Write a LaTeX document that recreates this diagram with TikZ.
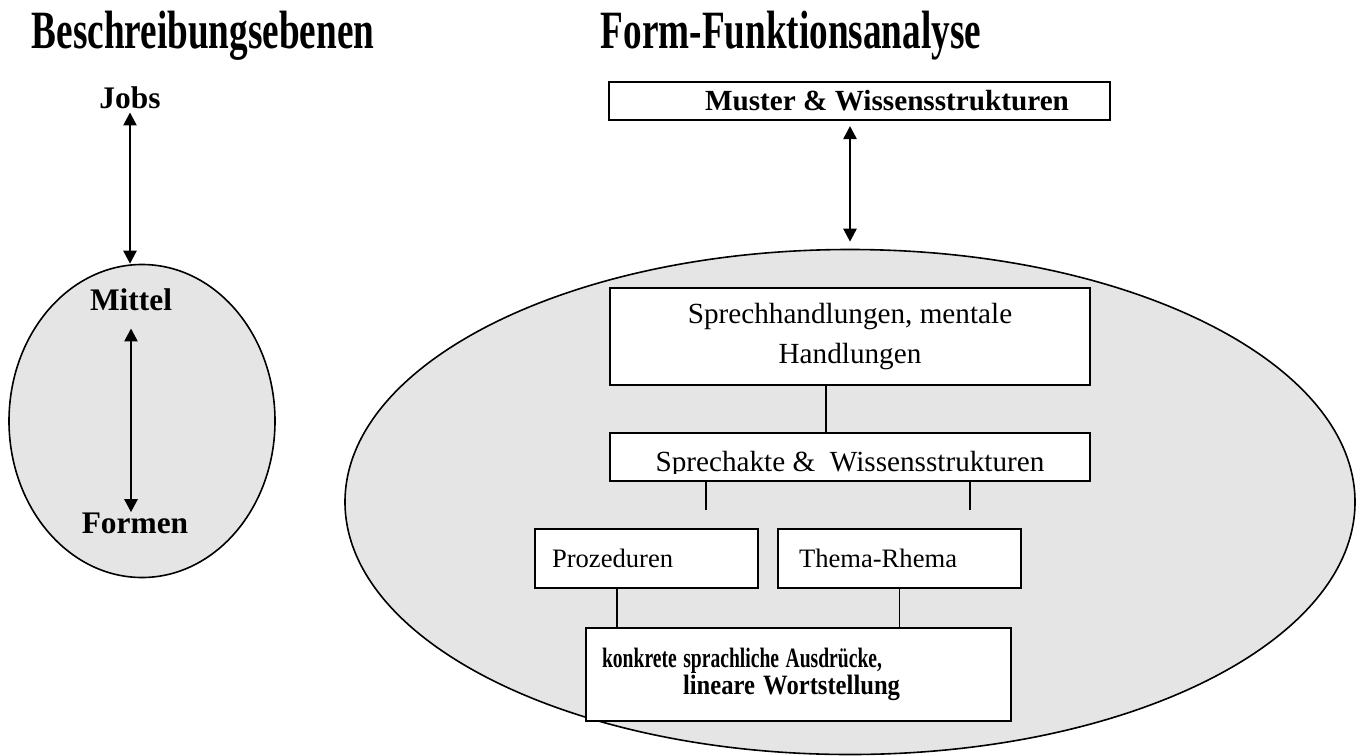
\documentclass[tikz,border=0pt]{standalone}
\usepackage{graphicx}
\usepackage{fontspec}
\setmainfont{Liberation Serif}
\usetikzlibrary{arrows.meta,shapes.geometric,positioning}

\begin{document}
\begin{tikzpicture}[x=0.5pt,y=-0.5pt,>={Triangle[length=6.5pt,width=6.5pt]},
                    box/.style={draw,fill=white,line width=1pt,inner sep=0pt},
                    blob/.style={ellipse,draw,fill=black!10,line width=0.8pt,inner sep=0pt},
                    level/.style={inner sep=0pt,font=\bfseries\fontsize{15.7}{18}\selectfont},
                    title/.style={anchor=base,font=\bfseries\fontsize{18.6}{22}\selectfont}]

  \useasboundingbox (0,0) rectangle (1363,755);

  \node[title] (t1) at (203,48) {\scalebox{1}[1.45]{Beschreibungsebenen}};
  \node[title] (t2) at (791,48) {\scalebox{1}[1.45]{Form-Funktionsanalyse}};

  % left: Beschreibungsebenen
  \node[blob,minimum width=133pt,minimum height=156.5pt] (small) at (142,421) {};
  \node[level] (jobs) at (130,98) {Jobs};
  \node[level] (mittel) at (131,300) {Mittel};
  \node[level] (formen) at (135,523) {Formen};

  % right: Form-Funktionsanalyse
  \node[blob,minimum width=505pt,minimum height=252.5pt] (big) at (850,502) {};
  \node[box,minimum width=250.5pt,minimum height=19pt,
        font=\bfseries\fontsize{14.6}{17}\selectfont] (muster) at (859.5,101)
        {\hspace*{27.5pt}Muster \& Wissensstrukturen};
  \node[box,minimum width=240pt,minimum height=48.5pt,align=center,
        font=\fontsize{14.6}{20}\selectfont] (handl) at (850,336.5)
        {Sprechhandlungen, mentale\\Handlungen};
  % text of this box is cut off at the bottom
  \node[box,minimum width=240pt,minimum height=24pt,
        path picture={
          \clip (path picture bounding box.north west)
                rectangle ([yshift=3.8pt]path picture bounding box.south east);
          \node[anchor=base,inner sep=0pt,font=\fontsize{14.6}{17}\selectfont]
            at ([yshift=4.6pt]path picture bounding box.south)
            {Sprechakte \&\ \ Wissensstrukturen};
        }] (akte) at (850,457) {};
  \node[box,minimum width=111.5pt,minimum height=29.5pt,text width=94.5pt,align=left,
        font=\fontsize{13.3}{16}\selectfont] (proz) at (646.5,558.5) {Prozeduren};
  \node[box,minimum width=121.5pt,minimum height=29.5pt,text width=100.5pt,align=left,
        font=\fontsize{13.3}{16}\selectfont] (thema) at (899.5,558.5) {Thema-Rhema};
  \node[box,minimum width=212.5pt,minimum height=46.5pt,text width=196.5pt,align=left,
        font=\bfseries\fontsize{14}{13.5}\selectfont] (konk) at (798.5,674.5)
        {\resizebox{140pt}{\height}{konkrete sprachliche Ausdrücke,}\\
         \hspace*{40.5pt}\resizebox{108.5pt}{\height}{lineare Wortstellung}};

  \coordinate (d1) at (706,510);
  \coordinate (d2) at (970,510);

  \path[<->,line width=1.25pt]
    (jobs.south) edge [shorten <=1.5pt] (jobs.south |- small.north)
    (mittel.south) edge [shorten <=8.5pt] (mittel.south |- formen.north)
    (muster.south -| big.north) edge [shorten <=2.5pt,shorten >=3.5pt] (big.north);

  \path[line width=0.9pt]
    ([xshift=-12pt]handl.south) edge ([xshift=-12pt]handl.south |- akte.north)
    (akte.south -| d1) edge (d1)
    (akte.south -| d2) edge (d2)
    ([xshift=-14.75pt]proz.south) edge ([xshift=-14.75pt]proz.south |- konk.north)
    (thema.south) edge (thema.south |- konk.north);
\end{tikzpicture}
\end{document}
